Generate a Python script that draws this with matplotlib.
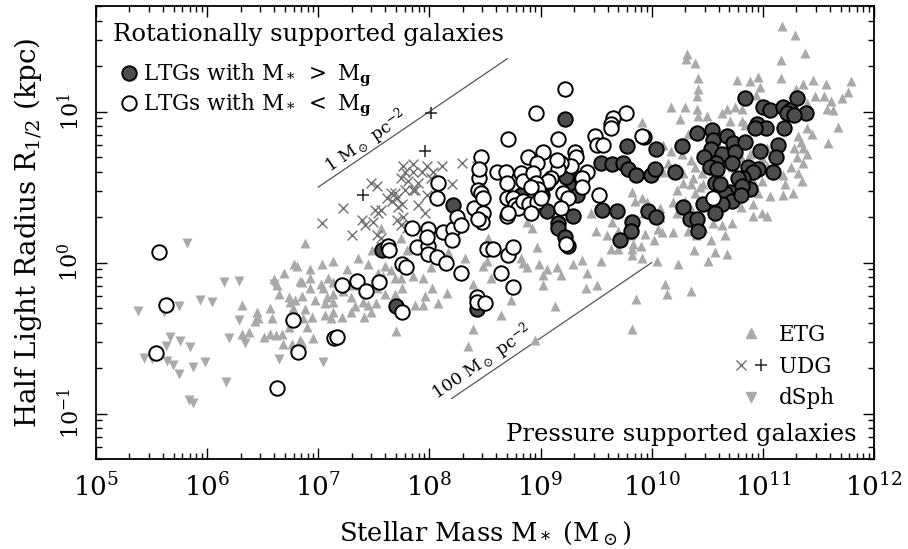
import numpy as np
import matplotlib
matplotlib.use('Agg')
from matplotlib import pyplot as plt
from matplotlib.lines import Line2D
from matplotlib.legend_handler import HandlerTuple
from matplotlib.ticker import LogLocator, NullFormatter

plt.rcParams['font.family'] = ['DejaVu Serif']
plt.rcParams['mathtext.fontset'] = 'dejavuserif'

# (log10 M*/Msun, log10 R_1/2/kpc)
etg_points = [
    (6.69, -0.07), (6.78, -0.01), (6.60, -0.11), (6.63, -0.15), (6.65, -0.21), (6.31, -0.28), (6.45, -0.33),
    (6.57, -0.30), (6.74, -0.23), (6.75, -0.26), (6.77, -0.30), (6.46, -0.37), (6.43, -0.39), (6.31, -0.47),
    (6.38, -0.46), (6.51, -0.49), (6.57, -0.47), (6.62, -0.48), (6.67, -0.47), (6.68, -0.54), (6.76, -0.54),
    (6.74, -0.43), (6.58, -0.37), (6.81, -0.02), (6.84, -0.12), (6.79, -0.25), (6.84, -0.51), (6.85, -0.53),
    (6.88, 0.13), (6.88, -0.31), (6.86, -0.37), (6.85, -0.13), (6.85, -0.22), (6.90, -0.43), (6.93, -0.04),
    (6.93, -0.10), (6.93, -0.17), (6.94, -0.36), (6.95, -0.50), (6.97, -0.25),
    (7.02, -0.14), (7.03, -0.01), (7.04, -0.17), (7.06, -0.27), (7.06, -0.35), (7.08, -0.23), (7.09, -0.10),
    (7.11, -0.37), (7.13, 0.01), (7.13, -0.13), (7.13, -0.21), (7.13, -0.26), (7.13, -0.33), (7.21, -0.36),
    (7.22, -0.19), (7.26, -0.04), (7.29, -0.23), (7.29, -0.33), (7.31, -0.15), (7.33, -0.29), (7.36, 0.03),
    (7.40, -0.26), (7.41, -0.36), (7.45, -0.01), (7.45, -0.28), (7.47, -0.33), (7.48, 0.08), (7.52, -0.27),
    (7.53, -0.17), (7.54, -0.07), (7.56, 0.23), (7.58, -0.09), (7.60, -0.02), (7.60, -0.21), (7.65, -0.05),
    (7.69, -0.10), (7.69, -0.21), (7.70, -0.45), (7.74, 0.16), (7.74, -0.10), (7.75, -0.17), (7.80, 0.08),
    (7.85, -0.09), (7.87, -0.28), (7.94, 0.13), (7.94, -0.10), (7.94, -0.28), (7.96, -0.22), (8.01, -0.03),
    (8.02, -0.17), (8.08, -0.27), (8.16, -0.20), (8.17, 0.07), (8.30, -0.07), (8.32, 0.03), (8.35, -0.55),
    (8.39, -0.14), (8.39, -0.44), (8.48, -0.02), (8.52, 0.01), (8.53, 0.16), (8.55, -0.10), (8.64, -0.35),
    (8.73, -0.25), (8.82, 0.03), (8.84, 0.00), (8.88, 0.27), (8.88, -0.03), (8.92, 0.23), (8.95, -0.51),
    (8.97, 0.10), (8.99, -0.01), (9.02, -0.08), (9.02, -0.15), (9.06, -0.04), (9.13, -0.29), (9.15, -0.03),
    (9.18, -0.08), (9.29, -0.01), (9.37, 0.02), (9.42, -0.07), (9.41, -0.17), (9.45, 0.33), (9.50, 0.21),
    (9.51, -0.15), (9.54, 0.01), (9.60, 0.18), (9.63, 0.09), (9.64, 0.27), (9.70, 0.21), (9.70, 0.09),
    (9.81, 0.18), (9.82, 0.09), (9.82, 0.47), (9.83, 0.12), (9.82, 0.05), (9.85, 0.41), (9.86, -0.24),
    (9.90, 0.11), (9.91, 0.93), (9.91, 0.43), (9.91, 0.03), (9.93, 0.33), (9.94, 0.19), (9.96, 0.40),
    (10.02, 0.15), (10.05, 0.01), (10.06, 0.22), (10.07, 0.36), (10.07, 0.30), (10.09, 0.20), (10.10, 0.78),
    (10.10, 0.60), (10.12, -0.14), (10.14, -0.21), (10.15, 0.66), (10.17, 1.03), (10.17, 0.74), (10.19, 0.40),
    (10.19, 0.20), (10.23, 0.48), (10.23, 0.33), (10.24, -0.01), (10.25, 0.95), (9.82, -0.44), (10.35, -0.19),
    (10.27, 0.72), (10.28, 0.59), (10.28, 0.53), (10.30, 0.41), (10.30, 1.03), (10.31, 1.35), (10.32, 1.38),
    (10.33, 0.85), (10.33, 0.21), (10.35, 0.68), (10.35, 0.52), (10.36, 0.35), (10.37, 0.56), (10.38, 0.08),
    (10.39, 1.32), (10.39, 0.46), (10.40, 0.18), (10.41, 1.10), (10.42, 1.22), (10.42, 1.15), (10.41, 1.02),
    (10.42, 0.97), (10.43, 0.50), (10.45, 0.59), (10.46, 0.52), (10.46, 0.23), (10.50, 0.97), (10.51, 0.89),
    (10.51, 0.01), (10.53, 0.15), (10.54, 0.33), (10.55, 0.26), (10.57, 0.07), (10.59, 0.79), (10.61, 0.41),
    (10.63, 0.99), (10.63, 0.25), (10.64, 0.56), (10.66, 0.18), (10.68, 1.02), (10.68, 0.06), (10.70, 0.94),
    (10.72, 0.63), (10.72, 0.26), (10.73, 0.40), (10.75, 1.03), (10.77, 1.21), (10.77, 0.52), (10.80, 0.70),
    (10.80, 0.37), (10.81, 1.02), (10.81, 0.94), (10.84, 0.91), (10.88, 1.20), (10.88, 0.72), (10.90, 0.56),
    (10.91, 0.39), (10.91, 0.31), (10.94, 1.11), (10.96, 1.23), (10.96, 0.46), (10.97, 1.16), (10.99, 0.69),
    (10.99, 0.54), (10.99, 0.33), (11.04, 0.76), (11.04, 0.64), (11.04, 0.31), (11.06, 0.44), (11.07, 0.60),
    (11.16, 1.34), (11.16, 1.22), (11.17, 1.57), (11.18, 0.58), (11.18, 0.45), (11.20, 0.52), (11.25, 0.63),
    (11.27, 0.46), (11.28, 0.76), (11.29, 1.51), (11.30, 1.15), (11.31, 0.70), (11.32, 0.84), (11.32, 0.59),
    (11.34, 0.80), (11.35, 0.54), (11.36, 1.18), (11.36, 0.76), (11.36, 0.66), (11.38, 1.39), (11.40, 1.06),
    (11.40, 0.89), (11.40, 0.72), (11.44, 0.85), (11.45, 1.21), (11.47, 1.10), (11.55, 1.10), (11.57, 1.18),
    (11.58, 1.02), (11.59, 0.79), (11.61, 1.07), (11.63, 1.01), (11.68, 0.90), (11.71, 1.09), (11.77, 1.13),
    (11.79, 1.20), (10.21, 0.63), (10.39, 0.63),
]

dsph_points = [
    (5.82, 0.13), (6.15, -0.13), (6.29, -0.12), (5.94, -0.25), (6.04, -0.26), (5.75, -0.29), (5.38, -0.32),
    (5.61, -0.33), (5.67, -0.49), (5.63, -0.55), (5.76, -0.52), (5.85, -0.56), (5.43, -0.63), (5.50, -0.64),
    (5.64, -0.65), (5.69, -0.68), (5.87, -0.69), (5.98, -0.66), (5.75, -0.74), (6.17, -0.79), (5.84, -0.91),
    (5.87, -0.93), (6.20, -0.50), (6.29, -0.38), (6.34, -0.53), (6.65, -0.64), (7.04, -0.66), (6.60, -0.14),
]

udg_cross_points = [
    (7.76, 0.64), (7.85, 0.65), (7.98, 0.64), (8.11, 0.64), (8.29, 0.66), (8.43, 0.64), (7.78, 0.60),
    (7.85, 0.60), (7.93, 0.60), (8.03, 0.60), (7.74, 0.56), (7.81, 0.54), (7.90, 0.53), (8.01, 0.56),
    (8.20, 0.52), (7.47, 0.53), (7.53, 0.51), (7.87, 0.48), (7.78, 0.48), (7.65, 0.46), (7.69, 0.46),
    (7.71, 0.43), (7.66, 0.41), (7.62, 0.43), (7.75, 0.39), (7.90, 0.38), (7.98, 0.45), (7.96, 0.33),
    (7.22, 0.36), (7.51, 0.35), (7.54, 0.33), (7.39, 0.28), (7.42, 0.25), (7.49, 0.27), (7.71, 0.28),
    (7.76, 0.30), (7.74, 0.25), (7.80, 0.23), (7.03, 0.26), (7.30, 0.18), (7.53, 0.18), (7.56, 0.16),
    (7.56, 0.35), (7.72, 0.37), (7.85, 0.48),
]

udg_plus_points = [(8.01, 0.99), (7.96, 0.74), (7.40, 0.45)]

ltg_star_points = [  # M* > Mg
    (7.57, 0.08), (7.70, -0.29), (8.21, 0.38), (8.43, -0.31), (9.22, 0.95), (8.92, 0.51), (9.01, 0.45),
    (8.82, 0.45), (9.06, 0.34), (9.29, 0.51), (9.36, 0.56), (9.33, 0.45), (9.23, 0.57), (9.29, 0.31),
    (9.16, 0.26), (9.16, 0.23), (9.22, 0.17), (9.25, 0.11), (9.54, 0.66), (9.64, 0.65), (9.74, 0.66),
    (9.79, 0.62), (9.86, 0.58), (9.78, 0.77), (9.93, 0.83), (10.04, 0.75), (9.99, 0.58), (10.03, 0.62),
    (10.21, 0.60), (9.55, 0.35), (9.69, 0.34), (9.97, 0.34), (10.04, 0.30), (9.82, 0.27), (9.81, 0.21),
    (9.71, 0.15), (10.27, 0.77), (10.41, 0.86), (10.54, 0.88), (10.55, 0.81), (10.53, 0.75), (10.68, 0.84),
    (10.73, 0.79), (10.63, 0.72), (10.75, 0.73), (10.47, 0.70), (10.58, 0.66), (10.52, 0.63), (10.59, 0.62),
    (10.72, 0.66), (10.57, 0.53), (10.84, 1.09), (11.00, 1.03), (11.06, 1.01), (10.95, 0.92), (11.03, 0.89),
    (10.93, 0.89), (10.84, 0.80), (10.97, 0.74), (11.14, 0.78), (11.19, 0.89), (11.18, 1.03), (11.24, 1.01),
    (11.31, 1.09), (11.39, 0.99), (11.12, 0.70), (11.09, 0.60), (10.96, 0.62), (10.87, 0.63), (10.91, 0.60),
    (10.82, 0.56), (10.78, 0.56), (10.88, 0.49), (10.77, 0.47), (10.70, 0.47), (10.66, 0.46), (10.72, 0.41),
    (10.63, 0.39), (10.57, 0.33), (10.46, 0.39), (10.28, 0.37), (10.34, 0.29), (10.41, 0.29), (10.42, 0.21),
    (9.06, 0.53), (11.22, 0.99), (11.28, 0.98), (10.81, 0.51), (10.61, 0.52), (10.80, 0.45),
]

ltg_gas_points = [  # M* < Mg
    (5.57, 0.07), (5.63, -0.28), (5.54, -0.60), (6.63, -0.83), (6.77, -0.38), (6.82, -0.59), (7.14, -0.50),
    (7.17, -0.49), (7.21, -0.15), (7.35, -0.12), (7.43, -0.19), (7.55, -0.13), (7.75, -0.33), (7.84, 0.23),
    (7.63, 0.11), (7.64, 0.08), (7.75, -0.01), (7.79, -0.03), (7.89, 0.10), (7.99, 0.11), (7.99, 0.06),
    (7.99, 0.22), (7.98, 0.17), (8.07, 0.04), (8.15, 0.00), (8.28, -0.07), (8.12, 0.20), (8.21, 0.22),
    (8.20, 0.15), (8.25, 0.30), (8.28, 0.25), (8.08, 0.53), (8.07, 0.43), (8.46, 0.70), (8.45, 0.56),
    (8.44, 0.48), (8.46, 0.46), (8.40, 0.36), (8.48, 0.33), (8.47, 0.27), (8.43, -0.23), (8.43, -0.26),
    (8.52, 0.09), (8.57, 0.09), (8.71, 0.05), (8.75, 0.10), (8.64, -0.07), (8.75, -0.16), (8.50, -0.27),
    (9.22, 1.15), (8.96, 0.99), (9.77, 0.99), (9.65, 0.96), (9.63, 0.92), (9.63, 0.89), (9.49, 0.84),
    (9.51, 0.78), (9.56, 0.78), (9.91, 0.84), (8.71, 0.82), (9.16, 0.82), (9.02, 0.73), (8.89, 0.70),
    (8.97, 0.66), (9.31, 0.73), (9.32, 0.70), (9.27, 0.64), (9.18, 0.66), (9.16, 0.62), (9.15, 0.68),
    (9.09, 0.56), (9.07, 0.54), (9.42, 0.60), (9.37, 0.56), (8.61, 0.60), (8.69, 0.60), (8.70, 0.53),
    (8.82, 0.59), (8.84, 0.54), (8.93, 0.59), (8.96, 0.53), (8.98, 0.49), (8.91, 0.50), (8.45, 0.62),
    (8.48, 0.43), (8.70, 0.43), (8.75, 0.43), (8.77, 0.38), (8.80, 0.36), (8.84, 0.41), (8.90, 0.39),
    (8.97, 0.40), (8.91, 0.33), (9.00, 0.43), (9.20, 0.46), (9.25, 0.43), (9.37, 0.50), (9.18, 0.36),
    (9.53, 0.45), (8.70, 0.31), (8.71, 0.33), (8.44, 0.29), (9.23, 0.12), (10.55, 0.43),
]

# constant surface density guide lines (end points)
sd_lines = {
    r'1 M$_\odot$ pc$^{-2}$': ([7.0, 8.7], [0.50, 1.35]),
    r'100 M$_\odot$ pc$^{-2}$': ([8.2, 10.0], [-0.90, 0.00]),
}
sd_label_pos = [(7.46, 0.77), (8.50, -0.69)]

x_ticks = 10.0 ** np.arange(5, 13)
y_ticks = [0.1, 1.0, 10.0]


def unlog(points):
    arr = np.array(points)
    return 10 ** arr[:, 0], 10 ** arr[:, 1]


grey = '#a9a9a9'
fig = plt.figure(figsize=(9.08, 5.49), dpi=100)
ax = fig.add_axes([0.1057, 0.1639, 0.8569, 0.8251])

x, y = unlog(etg_points)
ax.scatter(x, y, marker='^', s=52, color=grey, linewidths=0, zorder=1)
x, y = unlog(dsph_points)
ax.scatter(x, y, marker='v', s=52, color=grey, linewidths=0, zorder=1)
x, y = unlog(udg_cross_points)
ax.scatter(x, y, marker='x', s=50, color='#707070', linewidths=1.0, zorder=2)
x, y = unlog(udg_plus_points)
ax.scatter(x, y, marker='+', s=80, color='#222222', linewidths=1.1, zorder=2)
x, y = unlog(ltg_star_points)
ax.scatter(x, y, marker='o', s=108, facecolor='#4d4d4d', edgecolor='black', linewidths=1.4, zorder=3)
x, y = unlog(ltg_gas_points)
ax.scatter(x, y, marker='o', s=108, facecolor='white', edgecolor='black', linewidths=1.4, zorder=4)

for (label, (lm, lr)), (tm, tr) in zip(sd_lines.items(), sd_label_pos):
    ax.plot(10 ** np.array(lm), 10 ** np.array(lr), color='#555555', lw=0.9, zorder=0)
    ax.text(10 ** tm, 10 ** tr, label, rotation=34.3, rotation_mode='anchor',
            ha='center', va='baseline', fontsize=12.5)

ax.set_xscale('log')
ax.set_yscale('log')
ax.set_xlim(1e5, 1e12)
ax.set_ylim(0.05, 50)

ax.set_xticks(x_ticks)
ax.set_yticks(y_ticks)
ax.xaxis.set_minor_locator(LogLocator(base=10, subs=np.arange(2, 10), numticks=100))
ax.xaxis.set_minor_formatter(NullFormatter())
ax.yaxis.set_minor_locator(LogLocator(base=10, subs=np.arange(2, 10), numticks=100))
ax.yaxis.set_minor_formatter(NullFormatter())
ax.tick_params(which='both', direction='in', top=True, right=True, width=1.0)
ax.tick_params(which='major', length=8)
ax.tick_params(which='minor', length=4.5)
ax.tick_params(axis='x', labelsize=19, pad=10)
ax.tick_params(axis='y', labelsize=16, pad=9, labelrotation=90)
for lab in ax.get_yticklabels():
    lab.set_va('center')
for s in ax.spines.values():
    s.set_linewidth(1.3)

ax.set_xlabel(r'Stellar Mass M$_*$ (M$_\odot$)', fontsize=18.5, labelpad=13)
ax.set_ylabel(r'Half Light Radius R$_{1/2}$ (kpc)', fontsize=20, labelpad=9)

ax.text(0.022, 0.938, 'Rotationally supported galaxies', transform=ax.transAxes,
        ha='left', va='center', fontsize=17.5)
ax.text(0.978, 0.055, 'Pressure supported galaxies', transform=ax.transAxes,
        ha='right', va='center', fontsize=17.5)

h_star = Line2D([], [], ls='', marker='o', ms=10.4, mfc='#4d4d4d', mec='black', mew=1.4)
h_gas = Line2D([], [], ls='', marker='o', ms=10.4, mfc='white', mec='black', mew=1.4)
leg1 = ax.legend([h_star, h_gas],
                 [r'LTGs with M$_*$ $>$ M$_{\mathbf{g}}$', r'LTGs with M$_*$ $<$ M$_{\mathbf{g}}$'],
                 loc='upper left', bbox_to_anchor=(0.028, 0.876), frameon=False, fontsize=15.5,
                 handlelength=1.0, handletextpad=0.15, borderpad=0, borderaxespad=0, labelspacing=0.12)
ax.add_artist(leg1)

h_etg = Line2D([], [], ls='', marker='^', ms=7.2, mfc=grey, mec=grey)
h_x = Line2D([], [], ls='', marker='x', ms=7, mec='#707070', mew=1.0)
h_p = Line2D([], [], ls='', marker='+', ms=9, mec='#222222', mew=1.1)
h_dsph = Line2D([], [], ls='', marker='v', ms=7.2, mfc=grey, mec=grey)
ax.legend([h_etg, (h_x, h_p), h_dsph], ['ETG', 'UDG', 'dSph'],
          handler_map={tuple: HandlerTuple(ndivide=None, pad=0.3)},
          loc='lower right', bbox_to_anchor=(0.95, 0.11), frameon=False, fontsize=15.5,
          handlelength=1.6, handletextpad=0.5, borderpad=0, borderaxespad=0, labelspacing=0.45)

fig.savefig('out.png', dpi=100)
